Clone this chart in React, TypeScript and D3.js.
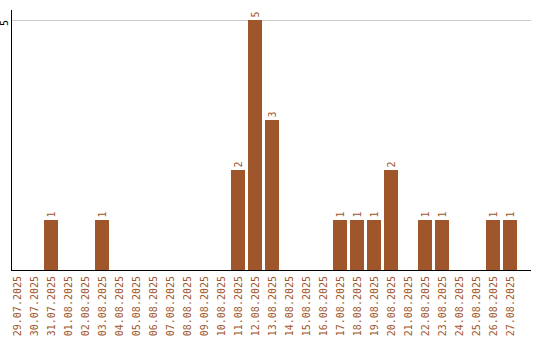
import React from "react";
import * as d3 from "d3";

const dates = [
  "29.07.2025","30.07.2025","31.07.2025","01.08.2025","02.08.2025","03.08.2025",
  "04.08.2025","05.08.2025","06.08.2025","07.08.2025","08.08.2025","09.08.2025",
  "10.08.2025","11.08.2025","12.08.2025","13.08.2025","14.08.2025","15.08.2025",
  "16.08.2025","17.08.2025","18.08.2025","19.08.2025","20.08.2025","21.08.2025",
  "22.08.2025","23.08.2025","24.08.2025","25.08.2025","26.08.2025","27.08.2025",
];
const counts = [0,0,1,0,0,1,0,0,0,0,0,0,0,2,5,3,0,0,0,1,1,1,2,0,1,1,0,0,1,1];
const yTicks = [5];

const W = 540, H = 340;
const COLOR = "#A0562B";
const FONT = "'DejaVu Sans Mono', monospace";

export default function App() {
  const x = d3.scaleBand<string>().domain(dates).range([10, 517]).paddingInner(3 / 17).paddingOuter(0);
  const y = d3.scaleLinear().domain([0, 5]).range([270, 20]);
  const axisLeft = 11, axisRight = 531, axisTop = 10;
  return (
    <svg width={W} height={H} style={{ position: "absolute", left: 0, top: 0 }}>
      {yTicks.map(t => (
        <g key={t}>
          <line x1={axisLeft} x2={axisRight} y1={y(t)} y2={y(t)} stroke="#cccccc" strokeWidth={1} shapeRendering="crispEdges" />
          <text transform={`translate(8,${y(t) + 3}) rotate(-90)`} textAnchor="middle" fontFamily={FONT} fontSize={10} fill="#000">{t}</text>
        </g>
      ))}
      {dates.map((d, i) => counts[i] > 0 ? (
        <g key={d}>
          <rect x={x(d)} y={y(counts[i])} width={x.bandwidth()} height={y(0) - y(counts[i])} fill={COLOR} shapeRendering="crispEdges" />
          <text transform={`translate(${(x(d) as number) + x.bandwidth() / 2 + 4},${y(counts[i]) - 2.5}) rotate(-90)`} textAnchor="start" fontFamily={FONT} fontSize={10} fill={COLOR}>{counts[i]}</text>
        </g>
      ) : null)}
      <line x1={axisLeft} x2={axisLeft} y1={axisTop} y2={270.5} stroke="#000" strokeWidth={1} shapeRendering="crispEdges" />
      <line x1={axisLeft} x2={axisRight} y1={270.5} y2={270.5} stroke="#000" strokeWidth={1.5} shapeRendering="crispEdges" />
      {dates.map(d => (
        <text key={d} transform={`translate(${(x(d) as number) + x.bandwidth() / 2 + 4},276) rotate(-90)`} textAnchor="end" fontFamily={FONT} fontSize={10} fill={COLOR}>{d}</text>
      ))}
    </svg>
  );
}
